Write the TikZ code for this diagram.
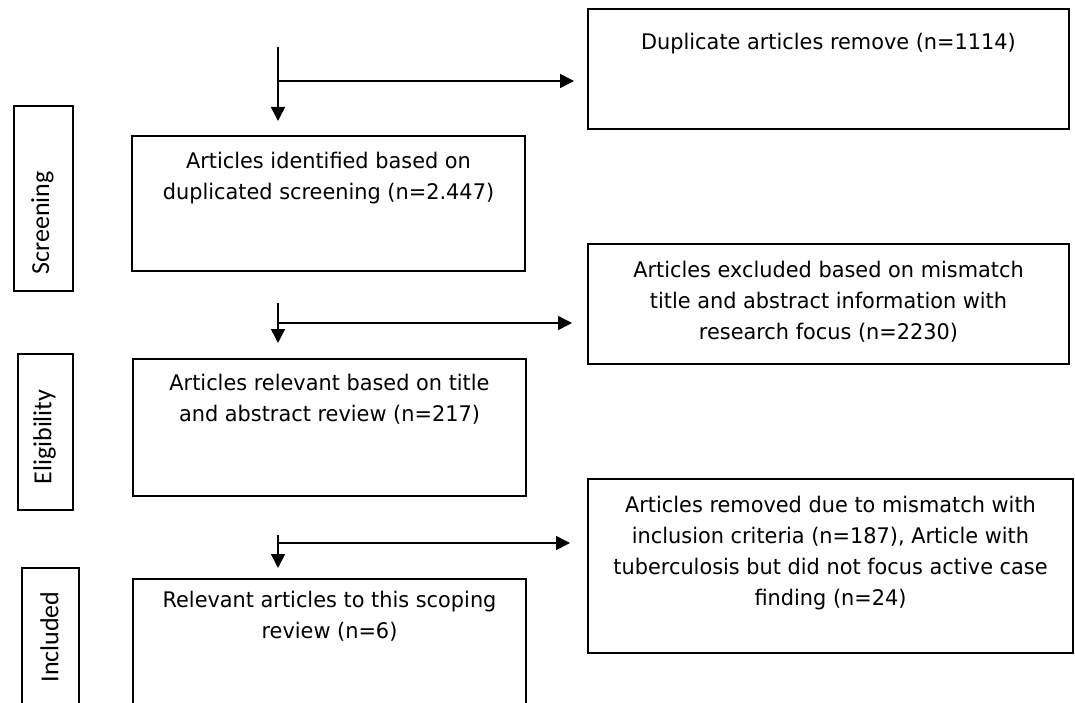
\documentclass[tikz,border=0pt]{standalone}
\usepackage{fontspec}
\setmainfont[FakeStretch=0.97]{DejaVu Sans}
\newfontfamily\sidefont{Carlito}
\usetikzlibrary{arrows.meta,calc}
\newcommand\boxtxt[4]{\parbox[c][#1pt][t]{#2pt}{\centering\vspace*{#3pt}#4\par}}
\tikzset{
  box/.style={draw=black, line width=2pt, inner sep=0pt, anchor=north west, font=\fontsize{21.5}{31}\selectfont},
  sidebox/.style={draw=black, line width=1.8pt, inner sep=0pt, anchor=north west},
  sidetext/.style={rotate=90, inner sep=0pt, font=\sidefont\fontsize{26}{30}\selectfont},
  conn/.style={draw=black, line width=1.6pt, -{Triangle[length=14pt,width=14pt]}},
}
\begin{document}
\begin{tikzpicture}[x=1pt,y=-1pt]
\useasboundingbox (0,0) rectangle (1075,703);
\begin{scope}
\clip (0,0) rectangle (1075,703);
% side labels
\node[sidebox, minimum width=59pt, minimum height=185pt] (scrbox) at (13,105) {};
\node[sidetext] (scrtxt) at (42.5,223) {Screening};
\node[sidebox, minimum width=55pt, minimum height=156pt] (elibox) at (17,353) {};
\node[sidetext] (elitxt) at (44.5,437) {Eligibility};
\node[sidebox, minimum width=57pt, minimum height=145pt] (incbox) at (21,567) {};
\node[sidetext] (inctxt) at (49.5,637) {Included};
% main boxes
\node[box] (dup) at (587,8) {\boxtxt{120}{481}{24}{Duplicate articles remove (n=1114)}};
\node[box] (ident) at (131,135) {\boxtxt{135}{393}{16}{Articles identified based on\\duplicated screening (n=2.447)}};
\node[box] (excl) at (587,243) {\boxtxt{120}{481}{17}{Articles excluded based on mismatch\\title and abstract information with\\research focus (n=2230)}};
\node[box] (relev) at (132,358) {\boxtxt{137}{393}{15}{Articles relevant based on title\\and abstract review (n=217)}};
\node[box] (remov) at (587,478) {\boxtxt{174}{485}{17}{Articles removed due to mismatch with\\inclusion criteria (n=187), Article with\\tuberculosis but did not focus active case\\finding (n=24)}};
\node[box] (final) at (132,578) {\boxtxt{135}{393}{12}{Relevant articles to this scoping\\review (n=6)}};
% connectors
\coordinate (s1) at (278,47);
\coordinate (h1) at (278,81);
\coordinate (s2) at (278,303);
\coordinate (h2) at (278,323);
\coordinate (s3) at (278,535);
\coordinate (h3) at (278,543);
\draw[conn, shorten >=14pt] (s1) -- (s1 |- ident.north);
\draw[conn, shorten >=13pt] (h1) -- (h1 -| dup.west);
\draw[conn, shorten >=15pt] (s2) -- (s2 |- relev.north);
\draw[conn, shorten >=15pt] (h2) -- (h2 -| excl.west);
\draw[conn, shorten >=10pt] (s3) -- (s3 |- final.north);
\draw[conn, shorten >=17pt] (h3) -- (h3 -| remov.west);
\end{scope}
\end{tikzpicture}
\end{document}
